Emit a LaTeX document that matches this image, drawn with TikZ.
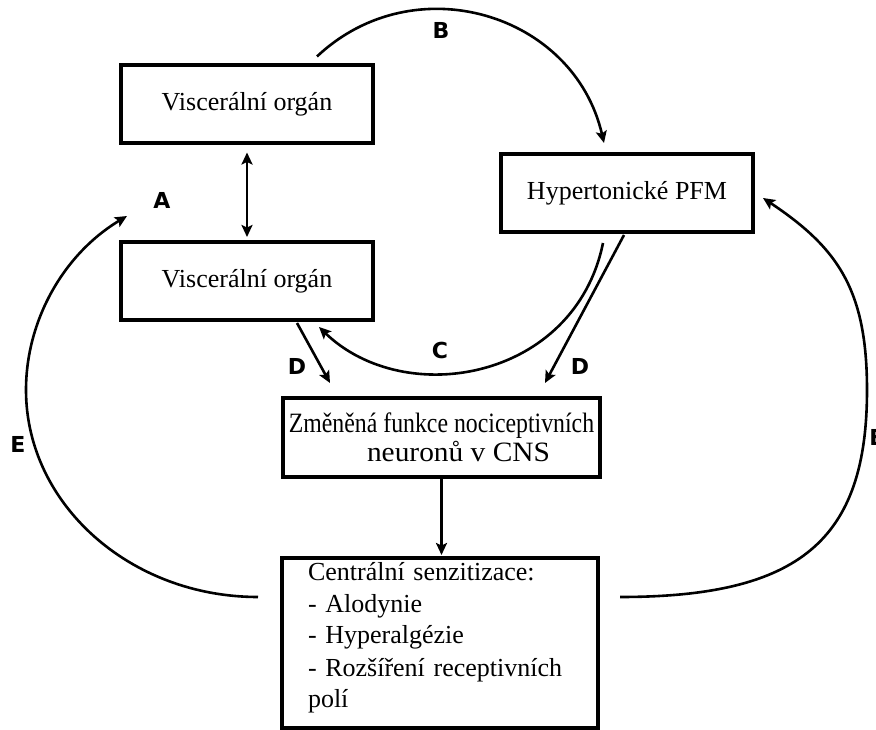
\documentclass[tikz,border=0pt]{standalone}
\usepackage{fontspec}
\setmainfont{Liberation Serif}
\newfontfamily\lblfont{DejaVu Sans}
\usepackage{graphicx}
\usetikzlibrary{arrows.meta,calc}

\begin{document}
\begin{tikzpicture}[x=1pt,y=1pt,
	box/.style={draw=black, line width=4pt, fill=white, outer sep=0pt, inner sep=2pt,
			align=center, minimum width=\boxw pt, minimum height=\boxh pt,
			font=\fontsize{26}{32}\selectfont},
	lbl/.style={font=\lblfont\bfseries\fontsize{22}{26}\selectfont, inner sep=0pt},
	arr/.style={line width=2.6pt, -{Stealth[length=12pt,width=11pt,inset=2.5pt]}},
	dblarr/.style={line width=2.6pt, {Stealth[length=12pt,width=11pt,inset=2.5pt]}-{Stealth[length=12pt,width=11pt,inset=2.5pt]}}]

\pgfmathsetmacro{\boxw}{252}
\pgfmathsetmacro{\boxh}{78}
\pgfmathsetmacro{\wideboxw}{317}

\useasboundingbox (0,0) rectangle (876,729);

% NODES

\node(visc1)[box]  at (247,624.5)   {Viscerální orgán};

\node(visc2)[box]  at (247,448)   {Viscerální orgán};

\node(pfm)[box]  at (627,536)   {Hypertonické PFM};

\node(cns)[box, 
			minimum width=\wideboxw pt, 
			minimum height=79pt,
			font=\fontsize{28}{29}\selectfont]  at (441.5,291.5)
			{\scalebox{0.85}[1]{Změněná funkce nociceptivních}\\\hspace*{34pt}\scalebox{1.05}[1]{neuronů v CNS}};

\node(senz)[box, 
			align=left, 
			text width=264pt,
			inner xsep=26pt, inner ysep=0pt,
			minimum width=316pt, minimum height=0pt,
			text height=22pt, text depth=148pt]  at (440,86)
			{Centrální senzitizace:\\- Alodynie\\- Hyperalgézie\\- Rozšíření receptivních\\polí};

% LABELS

\node(labA)[lbl]  at (162,529)   {A};
\node(labB)[lbl]  at (441,699)   {B};
\node(labC)[lbl]  at (440,379)   {C};
\node(labDl)[lbl] at (297,363)   {D};
\node(labDr)[lbl] at (580,363)   {D};
\node(labEl)[lbl] at (18,285)    {E};
\node(labEr)[lbl] at (877,292)   {E};

% ARROWS

\draw[dblarr]  ([yshift=-9pt]visc1.south) -- ([yshift=5pt]visc2.north);

\draw[arr, shorten >=3pt]  (cns.south) -- (cns.south |- senz.north);

% B
\draw[arr]  ($(visc1.north east)+(-56,9)$) .. controls +(97,91.5) and +(-30,130) .. ($(pfm.north)+(-23,11)$);

% C
\draw[arr]  ($(pfm.south)+(-24,-11)$) .. controls +(-28,-137) and +(86,-83) .. ($(visc2.south east)+(-54,-7)$);

% D
\draw[arr]  ($(visc2.south)+(50,-3)$) -- ($(cns.north)+(-111.5,15)$);
\draw[arr]  ($(pfm.south)+(-3,-3)$) -- ($(cns.north)+(103.5,15)$);

% E (left) and A
\draw[arr]  ($(senz.west)+(-24,46)$) .. controls +(-128,0) and +(0,-114) .. ++(-232,207)
			.. controls +(0,69) and +(-64,-38.5) .. ($(visc2.north west)+(6,26)$);

% E (right)
\draw[arr]  ($(senz.east)+(22,46)$) .. controls +(180,0) and +(0,-150) .. ++(247,207)
			.. controls +(0,100) and +(75,-50) .. ($(pfm.east)+(10,-5)$);

\end{tikzpicture}
\end{document}
